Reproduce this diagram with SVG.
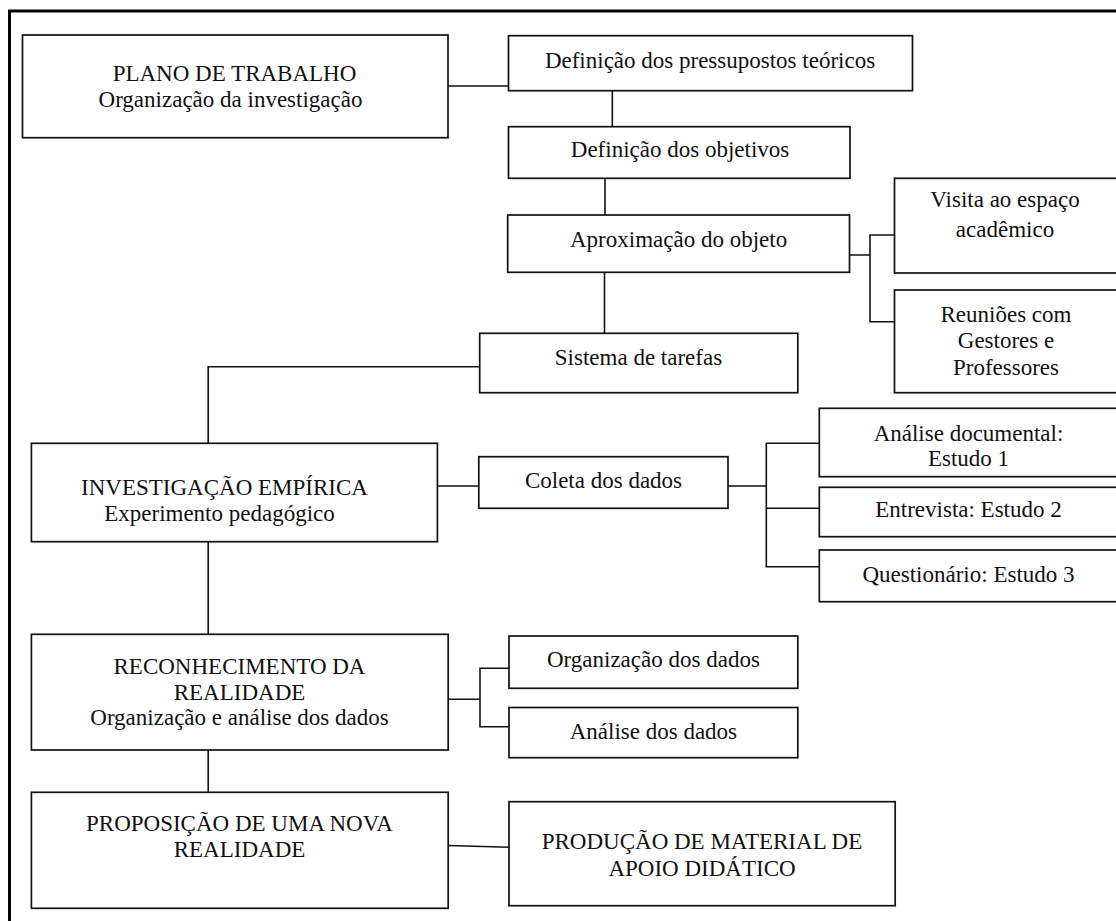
<svg xmlns="http://www.w3.org/2000/svg" width="1116" height="921" viewBox="0 0 1116 921">
<style>
.bx{fill:#fff;stroke:#111;stroke-width:1.7}
.cn{fill:none;stroke:#111;stroke-width:1.6}
.fr{fill:none;stroke:#000;stroke-width:3}
text{font-family:"Liberation Serif","Times New Roman",serif;font-size:23px;fill:#111;text-anchor:middle}
</style>
<rect width="1116" height="921" fill="#fff"/>
<path class="fr" d="M9.5,921 V11 H1116"/>
<g id="connectors">
<path class="cn" d="M448,86 H508.5"/>
<path class="cn" d="M612.3,90.7 V126.7"/>
<path class="cn" d="M605,178.3 V215"/>
<path class="cn" d="M849.5,255 H870 M894.5,235 H870 V321.7 H894.5"/>
<path class="cn" d="M604.5,272.3 V333.3"/>
<path class="cn" d="M479.7,366.7 H208.2 V443.3"/>
<path class="cn" d="M437.5,486 H478.8"/>
<path class="cn" d="M728,486 H766.3 M819.3,443.3 H766.3 V566.7 H819.3 M766.3,508.3 H819.3"/>
<path class="cn" d="M208.2,541.7 V634.3"/>
<path class="cn" d="M448.2,699.3 H480 M509,668.3 H480 V726.7 H509"/>
<path class="cn" d="M208.2,750 V792.3"/>
<path class="cn" d="M448.2,845.5 L509,847.3"/>
</g>
<g id="plano"><rect class="bx" x="22.5" y="35" width="425.5" height="102.7"/><text x="234.5" y="81">PLANO DE TRABALHO</text><text x="230.5" y="106.8">Organização da investigação</text></g>
<g id="def-pressupostos"><rect class="bx" x="508.5" y="35.7" width="404" height="55"/><text x="710" y="67.5">Definição dos pressupostos teóricos</text></g>
<g id="def-objetivos"><rect class="bx" x="508.5" y="126.7" width="341.5" height="51.6"/><text x="680" y="157">Definição dos objetivos</text></g>
<g id="aproximacao"><rect class="bx" x="507.7" y="215" width="341.8" height="57.3"/><text x="678.6" y="247">Aproximação do objeto</text></g>
<g id="visita"><rect class="bx" x="894.5" y="178.3" width="240" height="94.7"/><text x="1005" y="207">Visita ao espaço</text><text x="1005" y="237">acadêmico</text></g>
<g id="reunioes"><rect class="bx" x="894.5" y="290" width="240" height="102.7"/><text x="1006" y="322">Reuniões com</text><text x="1006" y="348">Gestores e</text><text x="1006" y="375">Professores</text></g>
<g id="sistema"><rect class="bx" x="479.7" y="333.3" width="318.1" height="59.4"/><text x="638.5" y="365">Sistema de tarefas</text></g>
<g id="investigacao"><rect class="bx" x="31.4" y="443.3" width="406" height="98.4"/><text x="224.5" y="495">INVESTIGAÇÃO EMPÍRICA</text><text x="219.5" y="520.8">Experimento pedagógico</text></g>
<g id="coleta"><rect class="bx" x="478.8" y="456.7" width="249.2" height="51.6"/><text x="603.5" y="488">Coleta dos dados</text></g>
<g id="analise-documental"><rect class="bx" x="819.3" y="408.3" width="310" height="68.4"/><text x="968.5" y="440.5">Análise documental:</text><text x="968.5" y="466.2">Estudo 1</text></g>
<g id="entrevista"><rect class="bx" x="819.3" y="487.3" width="310" height="49.4"/><text x="968.5" y="517">Entrevista: Estudo 2</text></g>
<g id="questionario"><rect class="bx" x="819.3" y="550" width="310" height="51.7"/><text x="968.5" y="582">Questionário: Estudo 3</text></g>
<g id="reconhecimento"><rect class="bx" x="31.4" y="634.3" width="416.8" height="115.7"/><text x="239.5" y="674">RECONHECIMENTO DA</text><text x="239.5" y="699.7">REALIDADE</text><text x="239.5" y="725.4">Organização e análise dos dados</text></g>
<g id="organizacao-dados"><rect class="bx" x="509" y="636" width="288.8" height="52.3"/><text x="653.4" y="667">Organização dos dados</text></g>
<g id="analise-dados"><rect class="bx" x="509" y="707.5" width="288.8" height="50.2"/><text x="653.4" y="739">Análise dos dados</text></g>
<g id="proposicao"><rect class="bx" x="31.4" y="792.3" width="416.8" height="116"/><text x="239.5" y="831">PROPOSIÇÃO DE UMA NOVA</text><text x="239.5" y="857">REALIDADE</text></g>
<g id="producao"><rect class="bx" x="509" y="801.7" width="386.2" height="104"/><text x="702" y="849">PRODUÇÃO DE MATERIAL DE</text><text x="702" y="876">APOIO DIDÁTICO</text></g>
</svg>
